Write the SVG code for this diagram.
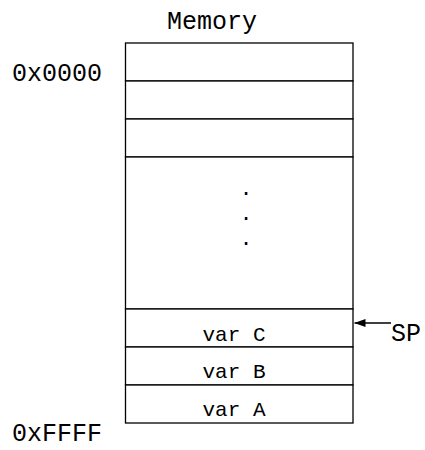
<svg xmlns="http://www.w3.org/2000/svg" width="425" height="450" viewBox="0 0 425 450">
<style>
.cell{fill:#fff;stroke:#000;stroke-width:1.3}
.t{font-family:"Liberation Mono","Courier New",monospace;fill:#000}
.big{font-size:25px}
.small{font-size:21px}
</style>
<defs>
<marker id="ah" markerWidth="11" markerHeight="8" refX="11" refY="4" orient="auto" markerUnits="userSpaceOnUse">
<path d="M0,0 L11,4 L0,8 Z" fill="#000"/>
</marker>
</defs>
<rect width="425" height="450" fill="#fff"/>
<text class="t big" x="212" y="29" text-anchor="middle">Memory</text>
<text class="t big" x="12" y="81">0x0000</text>
<text class="t big" x="12" y="441">0xFFFF</text>
<g id="cell1"><rect class="cell" x="125.5" y="43" width="227.5" height="38"/></g>
<g id="cell2"><rect class="cell" x="125.5" y="81" width="227.5" height="38"/></g>
<g id="cell3"><rect class="cell" x="125.5" y="119" width="227.5" height="38"/></g>
<g id="gap">
<rect class="cell" x="125.5" y="157" width="227.5" height="152"/>
<text class="t small" x="246" y="195" text-anchor="middle">.</text>
<text class="t small" x="246" y="220" text-anchor="middle">.</text>
<text class="t small" x="246" y="245" text-anchor="middle">.</text>
</g>
<g id="varC"><rect class="cell" x="125.5" y="309" width="227.5" height="38"/><text class="t small" x="234" y="341" text-anchor="middle">var C</text></g>
<g id="varB"><rect class="cell" x="125.5" y="347" width="227.5" height="38"/><text class="t small" x="234" y="378" text-anchor="middle">var B</text></g>
<g id="varA"><rect class="cell" x="125.5" y="385" width="227.5" height="38"/><text class="t small" x="234" y="416" text-anchor="middle">var A</text></g>
<g id="sp"><text class="t big" x="391" y="341">SP</text></g>
<g id="connectors">
<line x1="391" y1="323" x2="354.5" y2="323" stroke="#000" stroke-width="1.3" marker-end="url(#ah)"/>
</g>
</svg>
